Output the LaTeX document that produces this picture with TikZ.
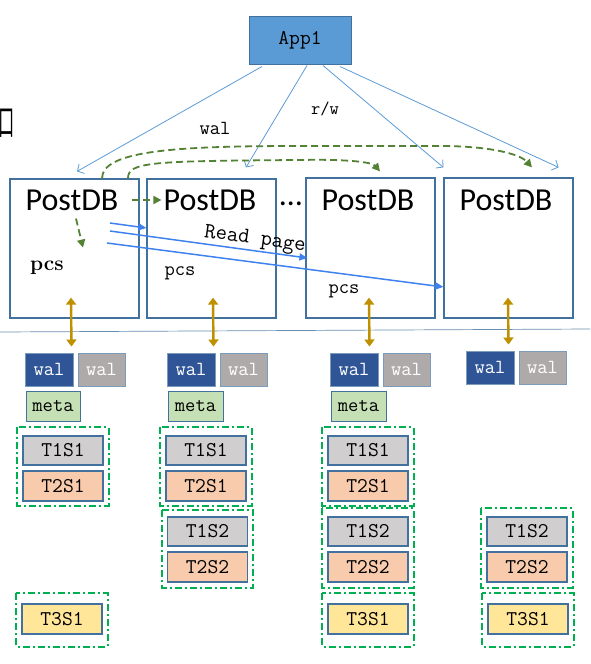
\documentclass[tikz,border=0pt]{standalone}
\usepackage{fontspec}
\newfontfamily\postfont{Carlito}
\newfontfamily\cjkfont{Noto Sans CJK SC}
\usetikzlibrary{arrows.meta,positioning}
\definecolor{appblue}{HTML}{5B9BD5}
\definecolor{boxline}{HTML}{41719C}
\definecolor{readblue}{HTML}{3F82EE}
\definecolor{dashgreen}{HTML}{548235}
\definecolor{groupgreen}{HTML}{00B050}
\definecolor{goldline}{HTML}{BF9000}
\definecolor{walnew}{HTML}{2F5597}
\definecolor{walold}{HTML}{AEAAAA}
\definecolor{metafill}{HTML}{C5E0B4}
\definecolor{tonefill}{HTML}{D0CECE}
\definecolor{ttwofill}{HTML}{F8CBAD}
\definecolor{tthreefill}{HTML}{FFE699}
\newcommand{\walpair}[3]{
  \node[WalNew] (#1a) at (#2,#3) {wal};
  \node[WalOld, right=4pt of #1a] (#1b) {wal};
}
\newcommand{\segframe}[4]{
  \draw[GroupLine] ([xshift=-5pt,yshift=#3]#1.north west) rectangle ([xshift=5pt,yshift=-#4]#2.south east);
}
\tikzset{
  AppBox/.style    = {draw=boxline, fill=appblue, line width=1pt, minimum width=102pt,
                      minimum height=48pt, inner sep=0pt, font=\ttfamily\fontsize{21}{23}\selectfont},
  PostBox/.style   = {draw=boxline, line width=1.2pt, minimum width=129pt, minimum height=139pt, inner sep=0pt},
  PostText/.style  = {inner sep=0pt, font=\postfont\fontsize{32}{36}\selectfont},
  MonoText/.style  = {inner sep=0pt, font=\ttfamily\fontsize{20}{22}\selectfont},
  WalNew/.style    = {draw=boxline!70, fill=walnew, text=white, line width=1pt, minimum width=48pt,
                      minimum height=33pt, inner sep=0pt, font=\ttfamily\fontsize{20}{22}\selectfont},
  WalOld/.style    = {WalNew, fill=walold, minimum width=47pt},
  MetaBox/.style   = {WalNew, fill=metafill, text=black, draw=boxline, minimum width=54pt, minimum height=30pt},
  SegBox/.style    = {draw=boxline, line width=1.2pt, minimum width=80pt, minimum height=29pt,
                      inner sep=0pt, font=\ttfamily\fontsize{21}{23}\selectfont},
  GroupLine/.style = {draw=groupgreen, line width=2pt, dash pattern=on 7pt off 3pt on 2pt off 3pt},
  AppEdge/.style   = {draw=appblue, line width=0.8pt, -{Straight Barb[length=5pt,width=11pt]}},
  ReadEdge/.style  = {draw=readblue, line width=1.5pt, -{Triangle[length=8pt,width=7pt]}},
  CopyEdge/.style  = {draw=dashgreen, line width=1.8pt, dash pattern=on 7pt off 4pt,
                      -{Triangle[length=8pt,width=8pt]}},
  DuplexEdge/.style= {draw=goldline, line width=2.4pt,
                      {Triangle[length=7pt,width=10pt]}-{Triangle[length=7pt,width=10pt]}}
}

\begin{document}
\begin{tikzpicture}[x=1pt,y=-1pt]
	\useasboundingbox (0,0) rectangle (590,664);
	\node[inner sep=0pt, xscale=0.45, font=\cjkfont\fontsize{36}{38}\selectfont] (cut) at (7,123) {口};
	\node[AppBox] (App) at (300,40) {App1};
	\node[PostBox] (P1) at (74.5,248.5) {};
	\node[PostBox] (P2) at (211.5,248.5) {};
	\node[PostBox, minimum height=140pt] (P3) at (370.5,248) {};
	\node[PostBox, minimum height=140pt] (P4) at (508.5,248) {};
	\node[PostText] (PD1) at (72,200) {PostDB};
	\node[PostText] (PD2) at (210,200) {PostDB};
	\node[PostText] (PD3) at (368,200) {PostDB};
	\node[PostText] (PD4) at (506,200) {PostDB};
	\node[PostText] (dots) at (291,204) {…};
	\node[inner sep=0pt, font=\bfseries\fontsize{21}{23}\selectfont] (pcs1) at (47,268) {pcs};
	\node[MonoText] (pcs2) at (180,273) {pcs};
	\node[MonoText] (pcs3) at (344,291) {pcs};
	\draw[boxline!80, line width=0.7pt] (0,332) -- (590,329);

	% App1 to the nodes
	\draw[AppEdge] ([xshift=-38pt,yshift=-2pt]App.south) -- ([xshift=2.5pt,yshift=7pt]P1.north);
	\draw[AppEdge] ([xshift=7pt,yshift=-1pt]App.south) -- ([xshift=34.5pt,yshift=11pt]P2.north);
	\draw[AppEdge] ([xshift=23pt,yshift=-1pt]App.south) -- ([yshift=10pt]P4.north west);
	\draw[AppEdge] ([xshift=40pt,yshift=-2pt]App.south) -- ([xshift=-15pt,yshift=10pt]P4.north east);
	\node[MonoText] (walLabel) at (215,128) {wal};
	\node[MonoText, font=\ttfamily\fontsize{18}{20}\selectfont] (rwLabel) at (325,109) {r/w};

	% wal shipping
	\draw[CopyEdge] ([xshift=27.5pt]P1.north) .. controls (102,150) and (180,146) .. (300,146)
		-- (440,146) .. controls (490,146) and (520,154) .. ([xshift=23.5pt,yshift=10pt]P4.north);
	\draw[CopyEdge] ([xshift=53.5pt]P1.north) .. controls (128,162) and (150,161) .. (300,160)
		.. controls (345,159) and (372,162) .. ([xshift=9.5pt,yshift=6pt]P3.north);
	\draw[CopyEdge] ([xshift=13pt]PD1.east) -- ([xshift=-2pt]PD2.west);
	\draw[CopyEdge] ([xshift=4pt,yshift=-8pt]PD1.south) -- ([xshift=11pt,yshift=-37pt]PD1.south);

	% page reads
	\coordinate (r1) at (110,223);
	\coordinate (r2) at (110,231);
	\coordinate (r3) at (107,243);
	\draw[ReadEdge] (r1) -- ([yshift=20.5pt]P2.west);
	\draw[ReadEdge] (r2) -- ([xshift=2pt,yshift=-10pt]P3.west);
	\draw[ReadEdge] (r3) -- ([yshift=-39pt]P4.west);
	\node[MonoText, rotate=-8, font=\ttfamily\fontsize{22}{24}\selectfont] (readLabel) at (255,240) {Read page};

	% storage
	\walpair{W1}{49}{369.5}
	\walpair{W2}{191}{369.5}
	\walpair{W3}{354}{369.5}
	\walpair{W4}{490}{367.5}
	\node[MetaBox] (M1) at (53,406) {meta};
	\node[MetaBox, minimum width=55pt] (M2) at (195.5,406) {meta};
	\node[MetaBox, minimum width=55pt] (M3) at (358.5,406) {meta};

	\draw[DuplexEdge] ([xshift=-3.5pt,yshift=21pt]P1.south) -- ([xshift=-2pt,yshift=6pt]W1a.north east);
	\draw[DuplexEdge] ([xshift=1.5pt,yshift=21pt]P2.south) -- ([xshift=-2pt,yshift=6pt]W2a.north east);
	\draw[DuplexEdge] ([xshift=-1.5pt,yshift=21pt]P3.south) -- ([xshift=-9pt,yshift=6pt]W3a.north east);
	\draw[DuplexEdge] ([xshift=-0.5pt,yshift=21pt]P4.south) -- ([xshift=-6pt,yshift=6pt]W4a.north east);

	\node[SegBox, fill=tonefill] (S1a) at (63,450.5) {T1S1};
	\node[SegBox, fill=ttwofill, minimum height=30pt] (S1b) at (63,486) {T2S1};
	\node[SegBox, fill=tthreefill, minimum height=30pt] (S1c) at (62,619) {T3S1};
	\node[SegBox, fill=tonefill] (S2a) at (206,450.5) {T1S1};
	\node[SegBox, fill=ttwofill, minimum height=30pt] (S2b) at (206,486) {T2S1};
	\node[SegBox, fill=tonefill] (S2c) at (207.5,531.5) {T1S2};
	\node[SegBox, fill=ttwofill, minimum height=30pt] (S2d) at (207.5,567) {T2S2};
	\node[SegBox, fill=tonefill] (S3a) at (368,450.5) {T1S1};
	\node[SegBox, fill=ttwofill, minimum height=30pt] (S3b) at (368,486) {T2S1};
	\node[SegBox, fill=tonefill] (S3c) at (368,531.5) {T1S2};
	\node[SegBox, fill=ttwofill, minimum height=30pt] (S3d) at (368,567) {T2S2};
	\node[SegBox, fill=tthreefill, minimum height=30pt] (S3e) at (368,619) {T3S1};
	\node[SegBox, fill=tonefill] (S4c) at (527,531.5) {T1S2};
	\node[SegBox, fill=ttwofill, minimum height=30pt] (S4d) at (527,567) {T2S2};
	\node[SegBox, fill=tthreefill, minimum height=30pt] (S4e) at (528,619) {T3S1};

	% segment groups
	\segframe{S1a}{S1b}{8pt}{4pt}
	\segframe{S1c}{S1c}{10pt}{12pt}
	\segframe{S2a}{S2b}{8pt}{4pt}
	\segframe{S2c}{S2d}{6pt}{5pt}
	\segframe{S3a}{S3b}{8pt}{4pt}
	\segframe{S3c}{S3d}{8pt}{5pt}
	\segframe{S3e}{S3e}{10pt}{12pt}
	\segframe{S4c}{S4d}{8pt}{5pt}
	\segframe{S4e}{S4e}{10pt}{12pt}
\end{tikzpicture}
\end{document}
